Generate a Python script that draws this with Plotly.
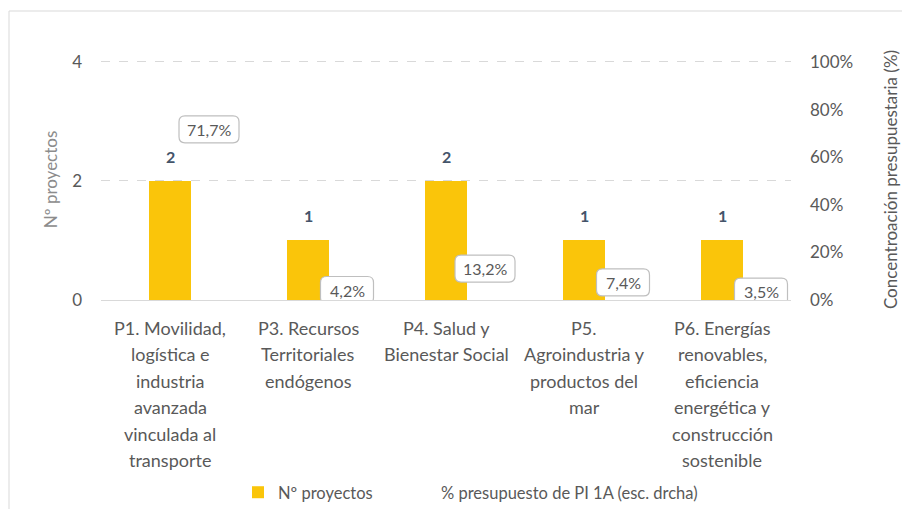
import plotly.graph_objects as go

categories = [
    "P1. Movilidad,<br>logística e<br>industria<br>avanzada<br>vinculada al<br>transporte",
    "P3. Recursos<br>Territoriales<br>endógenos",
    "P4. Salud y<br>Bienestar Social",
    "P5.<br>Agroindustria y<br>productos del<br>mar",
    "P6. Energías<br>renovables,<br>eficiencia<br>energética y<br>construcción<br>sostenible",
]
n_proyectos = [2, 1, 2, 1, 1]
pct_presupuesto = [71.7, 4.2, 13.2, 7.4, 3.5]
pct_labels = ["71,7%", "4,2%", "13,2%", "7,4%", "3,5%"]
left_ticks = [0, 2, 4]
right_ticks = [0, 20, 40, 60, 80, 100]
right_tick_labels = ["0%", "20%", "40%", "60%", "80%", "100%"]

FONT = "Lato"
GREY = "#595959"
xs = list(range(len(categories)))
W, H = 902, 501
L, R, T, B = 93, 119, 51, 209
PW, PH = W - L - R, H - T - B
YTOP = 4.05

fig = go.Figure()
fig.add_trace(go.Bar(
    x=xs, y=n_proyectos, name="Nº proyectos",
    marker=dict(color="#FAC50A", line=dict(width=0)),
    width=0.3, yaxis="y", legend="legend", showlegend=True,
))
fig.add_trace(go.Scatter(
    x=xs, y=pct_presupuesto, name="% presupuesto de PI 1A (esc. drcha)",
    mode="lines", line=dict(color="rgba(0,0,0,0)", width=0), yaxis="y2",
    hoverinfo="skip", legend="legend2", showlegend=True,
))


def rounded_path(w, h, r, dx):
    x0, x1 = dx - w / 2, dx + w / 2
    y0, y1 = -h / 2, h / 2
    return (f"M{x0 + r},{y0} L{x1 - r},{y0} Q{x1},{y0} {x1},{y0 + r} "
            f"L{x1},{y1 - r} Q{x1},{y1} {x1 - r},{y1} L{x0 + r},{y1} "
            f"Q{x0},{y1} {x0},{y1 - r} L{x0},{y0 + r} Q{x0},{y0} {x0 + r},{y0} Z")


annotations = []
shapes = []
# category labels, one line per annotation for Excel-like line spacing
for i, cat in enumerate(categories):
    for k, line in enumerate(cat.split("<br>")):
        annotations.append(dict(
            x=xs[i], y=0, xref="x", yref="y", text=line, showarrow=False,
            yanchor="middle", yshift=-(28 + 26.4 * k),
            font=dict(family=FONT, size=18, color=GREY),
        ))
for i, v in enumerate(n_proyectos):
    annotations.append(dict(
        x=xs[i], y=v, xref="x", yref="y", text="<b>%d</b>" % v,
        showarrow=False, yanchor="bottom", yshift=13,
        font=dict(family=FONT, size=16, color="#44546A"),
    ))
DX = 39
for i, v in enumerate(pct_presupuesto):
    w = 60 if len(pct_labels[i]) >= 5 else 53
    shapes.append(dict(
        type="path", xref="x", yref="y2", xsizemode="pixel", ysizemode="pixel",
        xanchor=xs[i], yanchor=v, path=rounded_path(w, 27, 6, DX),
        line=dict(color="#BFBFBF", width=1.2), fillcolor="white", layer="above",
    ))
    annotations.append(dict(
        x=xs[i], y=v, xref="x", yref="y2", text=pct_labels[i],
        showarrow=False, xshift=DX,
        font=dict(family=FONT, size=16, color=GREY),
    ))

shapes.append(dict(
    type="rect", xref="paper", yref="paper",
    x0=(1 - L) / PW, x1=(W + 5 - L) / PW,
    y0=(H - B - (H + 10)) / PH, y1=(H - B - 3) / PH,
    line=dict(color="#D9D9D9", width=1), layer="below",
))

fig.update_layout(
    width=W, height=H, showlegend=True,
    margin=dict(l=L, r=R, t=T, b=B, autoexpand=False),
    paper_bgcolor="white", plot_bgcolor="white",
    font=dict(family=FONT, size=17, color=GREY),
    bargap=0,
    xaxis=dict(
        tickmode="array", tickvals=xs, showticklabels=False,
        range=[-0.5, 4.5], showgrid=False, zeroline=False,
        showline=True, linecolor="#D9D9D9", linewidth=1,
        ticks="", automargin=False,
    ),
    yaxis=dict(
        range=[0, YTOP], tickvals=left_ticks, showgrid=True,
        gridcolor="#D9D9D9", griddash="dash", gridwidth=1,
        zeroline=False, showline=False, ticks="",
        tickfont=dict(family=FONT, size=17, color=GREY),
        automargin=False, ticklabelstandoff=18,
        title=dict(text="Nº proyectos", font=dict(family=FONT, size=17, color="#8C8C8C"), standoff=10),
    ),
    yaxis2=dict(
        range=[0, YTOP * 25], tickvals=right_ticks, ticktext=right_tick_labels,
        overlaying="y", side="right", showgrid=False, zeroline=False,
        showline=False, ticks="",
        tickfont=dict(family=FONT, size=17, color=GREY),
        automargin=False, ticklabelstandoff=18,
        title=dict(text="Concentroación presupuestaria (%)", font=dict(family=FONT, size=17, color=GREY), standoff=32),
    ),
    legend=dict(
        orientation="h", x=(230 - L) / PW, xanchor="left",
        y=(H - B - 467) / PH, yanchor="top",
        font=dict(family=FONT, size=16.5, color=GREY),
        itemwidth=30,
    ),
    legend2=dict(
        orientation="h", x=(393 - L) / PW, xanchor="left",
        y=(H - B - 467) / PH, yanchor="top",
        font=dict(family=FONT, size=16.5, color=GREY),
        itemwidth=30,
    ),
    annotations=annotations,
    shapes=shapes,
)

fig.write_html("out.html")
